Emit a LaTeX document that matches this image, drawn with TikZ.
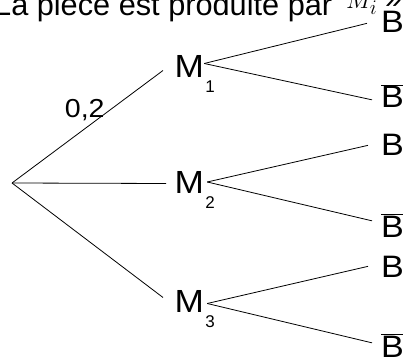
\documentclass[tikz,border=0pt]{standalone}
\usepackage{graphicx}
\usepackage{fontspec}
\setmainfont{Liberation Sans}
\newcommand\wideglyph[1]{\scalebox{1.1}[1]{#1}}
\begin{document}
\begin{tikzpicture}[x=1pt,y=-1pt]
\tikzset{
  mlbl/.style={font=\fontsize{32}{33}\selectfont, inner sep=0pt, anchor=base west},
  blbl/.style={font=\fontsize{31}{32}\selectfont, inner sep=0pt, anchor=base west},
  sub/.style={font=\fontsize{17}{17}\selectfont, inner sep=0pt, anchor=base west},
  edge/.style={draw=black, line width=0.8pt},
}
\useasboundingbox (0,0) rectangle (403,358);
\clip (0,0) rectangle (403,358);
% title (cut at the top)
\node[inner sep=0pt, anchor=base west, font=\fontsize{30}{30}\selectfont] (title) at (-6,16)
  {\resizebox{338pt}{!}{La pièce est produite par}\hspace{14pt}\raisebox{7pt}{\fontsize{30}{30}\selectfont$M_i$\hspace{8pt}»}};
% root
\coordinate (R) at (12,183);
% level 1
\node[mlbl] (M1) at (174.5,78) {\wideglyph{M}};
\node[sub] (s1) at ([xshift=1pt,yshift=-15pt]M1.base east) {1};
\node[mlbl] (M2) at (174.5,193) {\wideglyph{M}};
\node[sub] (s2) at ([xshift=1pt,yshift=-15pt]M2.base east) {2};
\node[mlbl] (M3) at (174.5,312) {\wideglyph{M}};
\node[sub] (s3) at ([xshift=1pt,yshift=-15pt]M3.base east) {3};
% level 2
\node[blbl] (B1)  at (381,33)  {\wideglyph{B}};
\node[blbl] (Bb1) at (381,108) {\wideglyph{$\overline{\mbox{B}}$}};
\node[blbl] (B2)  at (381,155) {\wideglyph{B}};
\node[blbl] (Bb2) at (381,237) {\wideglyph{$\overline{\mbox{B}}$}};
\node[blbl] (B3)  at (381,277) {\wideglyph{B}};
\node[blbl] (Bb3) at (381,357) {\wideglyph{$\overline{\mbox{B}}$}};
% edges
\draw[edge] (R) -- ([shift={(-11.5pt,-3.5pt)}]M1.west)
  node[pos=0.616, anchor=base east, yshift=-3.6pt, inner sep=0pt, font=\fontsize{26}{26}\selectfont] (p) {\wideglyph{0,2}};
\draw[edge] (R) -- ([shift={(-8.5pt,-1.5pt)}]M2.west);
\draw[edge] (R) -- ([shift={(-11.5pt,3.5pt)}]M3.west);
\draw[edge] ([shift={(0pt,3.5pt)}]M1.east) -- ([shift={(-14pt,-1pt)}]B1.west);
\draw[edge] ([shift={(0pt,3.5pt)}]M1.east) -- ([shift={(-9pt,-3.5pt)}]Bb1.west);
\draw[edge] ([xshift=3pt]M2.east) -- ([shift={(-13pt,-1pt)}]B2.west);
\draw[edge] ([xshift=3pt]M2.east) -- ([shift={(-9pt,4.5pt)}]Bb2.west);
\draw[edge] ([shift={(3pt,-2.5pt)}]M3.east) -- ([xshift=-13pt]B3.west);
\draw[edge] ([shift={(3pt,-2.5pt)}]M3.east) -- ([shift={(-9pt,2.5pt)}]Bb3.west);
\end{tikzpicture}
\end{document}
